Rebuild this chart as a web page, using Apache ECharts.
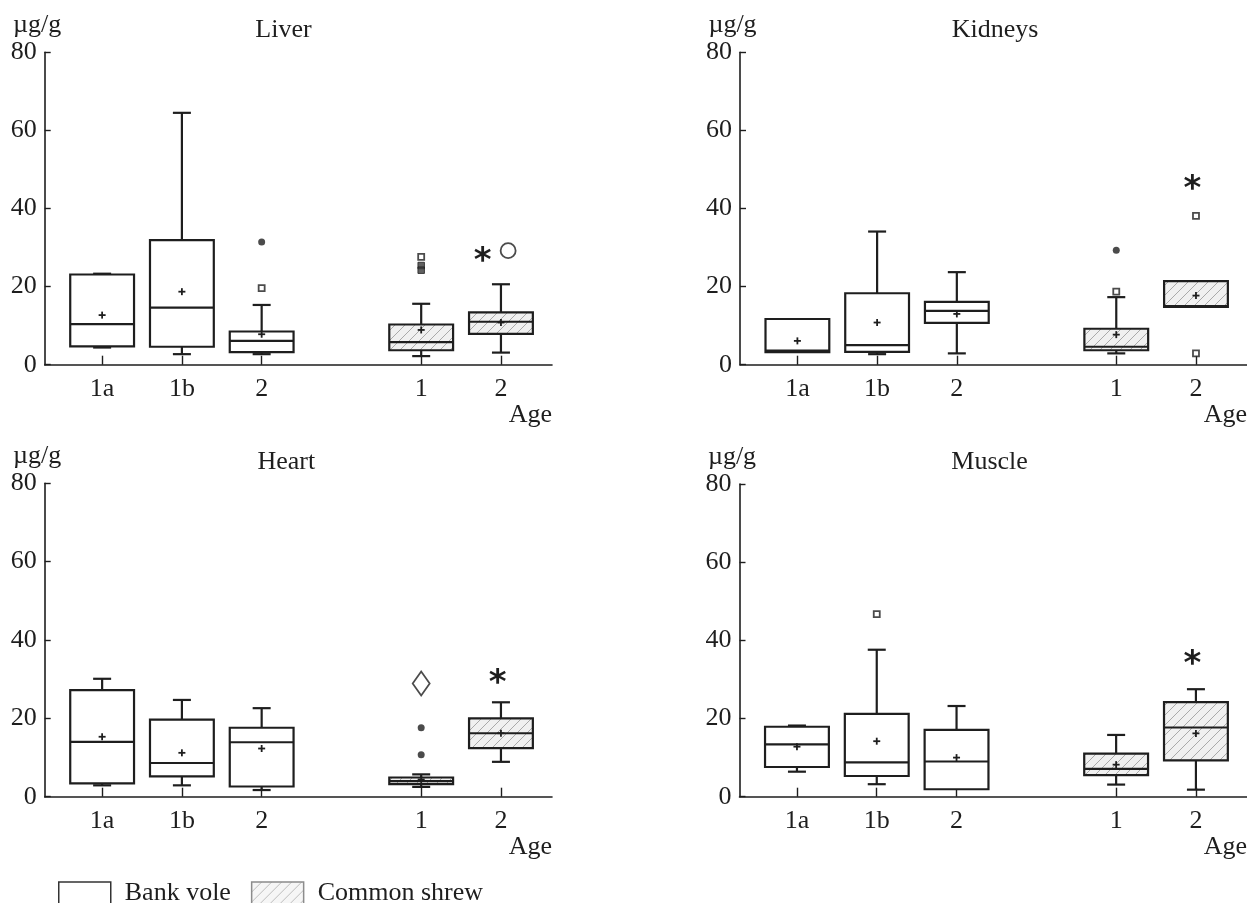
<!DOCTYPE html>
<html><head><meta charset="utf-8">
<script src="https://cdn.jsdelivr.net/npm/echarts@6/dist/echarts.min.js"></script>
<style>html,body{margin:0;padding:0;background:#fff}#c{width:1247px;height:903px}</style>
</head><body><div id="c"></div>
<script>
// ---- data ----
const panelTitles = ['Liver', 'Kidneys', 'Heart', 'Muscle'];
const tickPositions = [1, 2, 3, 5, 6];          // slot 4 = gap between species
const tickLabels = ['1a', '1b', '2', '1', '2'];
const volePos = [1, 2, 3];
const shrewPos = [5, 6];

// each row: [min, Q1, median, Q3, max, mean]
const liverVole   = [[4.4, 4.7, 10.4, 23.1, 23.3, 12.7], [2.7, 4.6, 14.6, 31.9, 64.5, 18.7], [2.7, 3.2, 6.1, 8.5, 15.3, 7.8]];
const liverShrew  = [[2.2, 3.7, 5.8, 10.3, 15.6, 8.9], [3.1, 7.9, 11.0, 13.4, 20.6, 10.8]];
const kidneysVole = [[3.2, 3.2, 3.6, 11.7, 11.7, 6.1], [2.7, 3.3, 5.0, 18.3, 34.1, 10.8], [2.9, 10.7, 13.8, 16.1, 23.7, 13.0]];
const kidneysShrew= [[2.9, 3.7, 4.6, 9.2, 17.3, 7.7], [14.8, 14.8, 15.0, 21.4, 21.4, 17.7]];
const heartVole   = [[2.9, 3.4, 14.0, 27.2, 30.1, 15.3], [2.9, 5.2, 8.6, 19.7, 24.7, 11.2], [1.7, 2.6, 13.9, 17.6, 22.6, 12.3]];
const heartShrew  = [[2.5, 3.2, 4.0, 4.9, 5.7, 4.4], [8.9, 12.4, 16.2, 20.0, 24.1, 16.2]];
const muscleVole  = [[6.4, 7.6, 13.4, 17.9, 18.2, 12.8], [3.2, 5.3, 8.8, 21.2, 37.6, 14.2], [1.9, 1.9, 9.0, 17.1, 23.2, 10.0]];
const muscleShrew = [[3.1, 5.5, 7.1, 11.0, 15.8, 8.2], [1.8, 9.3, 17.7, 24.2, 27.5, 16.2]];

// outliers / marks: [position, value]
const liverOpenSquares   = [[3, 19.6], [5, 27.6]];
const liverFilledSquares = [[5, 25.4], [5, 24.2]];
const liverDots          = [[3, 31.4]];
const liverStars         = [[5.77, 28.4]];
const liverRings         = [[6.09, 29.2]];
const kidneysOpenSquares = [[5, 18.7], [6, 38.1], [6, 2.9]];
const kidneysDots        = [[5, 29.3]];
const kidneysStars       = [[5.955, 46.7]];
const heartDots          = [[5, 17.6], [5, 10.7]];
const heartDiamonds      = [[5, 28.9]];
const heartStars         = [[5.96, 30.8]];
const muscleOpenSquares  = [[2, 46.7]];
const muscleStars        = [[5.955, 35.8]];

// ---- presentation ----
const INK = '#1e1e1e';
const FONT = 'Liberation Serif';
const grids = [
  {left: 44.7, top: 52.3, width: 507.3, height: 312.4},
  {left: 740, top: 52.3, width: 507, height: 312.4},
  {left: 44.7, top: 483.3, width: 507.3, height: 313.4},
  {left: 739.5, top: 484, width: 507.5, height: 312.7}
];
const titlePos = [[283.5, 17], [995, 17], [286.3, 449], [989.6, 449]];

function makeHatch(bg, line, step) {
  const c = document.createElement('canvas');
  c.width = step; c.height = step;
  const g = c.getContext('2d');
  g.fillStyle = bg; g.fillRect(0, 0, step, step);
  g.strokeStyle = line; g.lineWidth = 1;
  g.beginPath();
  g.moveTo(0, step); g.lineTo(step, 0);
  g.moveTo(-2, 2); g.lineTo(2, -2);
  g.moveTo(step - 2, step + 2); g.lineTo(step + 2, step - 2);
  g.stroke();
  return {image: c, repeat: 'repeat'};
}
const hatchBox = makeHatch('#f0f0f0', '#a9a9a9', 10);
const hatchLegend = makeHatch('#f6f6f6', '#bdbdbd', 10);

function boxRenderer(hatched) {
  return function (params, api) {
    const x = api.value(0);
    const mn = api.value(1), q1 = api.value(2), md = api.value(3), q3 = api.value(4), mx = api.value(5), mean = api.value(6);
    const px = api.coord([x, 0])[0];
    const Y = v => api.coord([x, v])[1];
    const unit = api.size([1, 0])[0];
    const hw = unit * 0.4, cap = 9;
    const st = {stroke: INK, lineWidth: 2.2};
    const ln = (x1, y1, x2, y2, s) => ({type: 'line', shape: {x1, y1, x2, y2}, style: s || st});
    const ch = [];
    if (mx > q3) { ch.push(ln(px, Y(q3), px, Y(mx))); ch.push(ln(px - cap, Y(mx), px + cap, Y(mx))); }
    if (mn < q1) { ch.push(ln(px, Y(q1), px, Y(mn))); ch.push(ln(px - cap, Y(mn), px + cap, Y(mn))); }
    ch.push({type: 'rect', shape: {x: px - hw, y: Y(q3), width: 2 * hw, height: Y(q1) - Y(q3)},
             style: {fill: hatched ? hatchBox : '#ffffff', stroke: INK, lineWidth: 2.2}});
    ch.push(ln(px - hw, Y(md), px + hw, Y(md)));
    const my = Y(mean), ms = {stroke: INK, lineWidth: 1.8};
    ch.push(ln(px - 3.5, my, px + 3.5, my, ms));
    ch.push(ln(px, my - 3.5, px, my + 3.5, ms));
    return {type: 'group', children: ch};
  };
}

function starRenderer(params, api) {
  const p = api.coord([api.value(0), api.value(1)]);
  return {type: 'text', x: p[0], y: p[1] + 8,
          style: {text: '*', fontSize: 34, fontWeight: 'bold', fontFamily: 'DejaVu Sans', fill: INK, align: 'center', verticalAlign: 'middle'}};
}

const panels = [
  {vole: liverVole, shrew: liverShrew, open: liverOpenSquares, filled: liverFilledSquares, dots: liverDots, stars: liverStars, rings: liverRings, diamonds: []},
  {vole: kidneysVole, shrew: kidneysShrew, open: kidneysOpenSquares, filled: [], dots: kidneysDots, stars: kidneysStars, rings: [], diamonds: []},
  {vole: heartVole, shrew: heartShrew, open: [], filled: [], dots: heartDots, stars: heartStars, rings: [], diamonds: heartDiamonds},
  {vole: muscleVole, shrew: muscleShrew, open: muscleOpenSquares, filled: [], dots: [], stars: muscleStars, rings: [], diamonds: []}
];

const txt = {fontFamily: FONT, fontSize: 26, color: INK};
const option = {
  animation: false,
  backgroundColor: '#ffffff',
  title: panelTitles.map((t, i) => ({text: t, left: titlePos[i][0], top: titlePos[i][1], textAlign: 'center', padding: 0,
                                     textStyle: {fontFamily: FONT, fontSize: 26, fontWeight: 'normal', color: INK}})),
  legend: {
    left: 58, top: 880, padding: 0, itemWidth: 52, itemHeight: 22, itemGap: 20, selectedMode: false, icon: 'rect',
    textStyle: Object.assign({padding: [0, 0, 0, 9]}, txt),
    data: [
      {name: 'Bank vole', itemStyle: {color: '#ffffff', borderColor: '#333333', borderWidth: 1.5}},
      {name: 'Common shrew', itemStyle: {color: hatchLegend, borderColor: '#8c8c8c', borderWidth: 1.5}}
    ]
  },
  grid: grids.map(g => Object.assign({containLabel: false, outerBoundsMode: 'none'}, g)),
  xAxis: grids.map((g, i) => ({
    type: 'value', gridIndex: i, min: 0.28, max: 6.64,
    splitLine: {show: false},
    axisLine: {show: true, onZero: false, lineStyle: {color: INK, width: 1.6}},
    axisTick: {show: true, inside: true, length: 9, customValues: tickPositions, lineStyle: {color: INK, width: 1.4}},
    axisLabel: Object.assign({customValues: tickPositions, margin: 11, formatter: v => tickLabels[tickPositions.indexOf(v)]}, txt),
    name: 'Age', nameLocation: 'end', nameGap: 0, nameMoveOverlap: false,
    nameTextStyle: Object.assign({align: 'right', verticalAlign: 'top', padding: [37, 0, 0, 0]}, txt)
  })),
  yAxis: grids.map((g, i) => ({
    type: 'value', gridIndex: i, min: 0, max: 80, interval: 20,
    splitLine: {show: false},
    axisLine: {show: true, onZero: false, lineStyle: {color: INK, width: 1.6}},
    axisTick: {show: true, inside: true, length: 6, lineStyle: {color: INK, width: 1.4}},
    axisLabel: Object.assign({margin: 8}, txt),
    name: 'µg/g', nameLocation: 'end', nameGap: 14, nameMoveOverlap: false,
    nameTextStyle: Object.assign({padding: [0, 15, 0, 0]}, txt)
  })),
  series: []
};

panels.forEach((p, i) => {
  option.series.push({
    name: 'Bank vole', type: 'custom', xAxisIndex: i, yAxisIndex: i, silent: true,
    itemStyle: {color: '#ffffff', borderColor: '#333333'},
    data: volePos.map((x, j) => [x].concat(p.vole[j])), renderItem: boxRenderer(false), z: 2
  });
  option.series.push({
    name: 'Common shrew', type: 'custom', xAxisIndex: i, yAxisIndex: i, silent: true,
    itemStyle: {color: '#eeeeee', borderColor: '#8c8c8c'},
    data: shrewPos.map((x, j) => [x].concat(p.shrew[j])), renderItem: boxRenderer(true), z: 2
  });
  const sc = (data, symbol, size, style) => ({type: 'scatter', xAxisIndex: i, yAxisIndex: i, silent: true, z: 4,
                                              data, symbol, symbolSize: size, itemStyle: style});
  option.series.push(sc(p.open, 'rect', 6, {color: '#ffffff', borderColor: INK, borderWidth: 1.8}));
  option.series.push(sc(p.filled, 'rect', 6.5, {color: '#3a3a3a', borderColor: INK, borderWidth: 1}));
  option.series.push(sc(p.dots, 'circle', 7, {color: INK}));
  option.series.push(sc(p.rings, 'circle', 15, {color: '#ffffff', borderColor: INK, borderWidth: 1.8}));
  option.series.push(sc(p.diamonds, 'diamond', [17, 24], {color: '#ffffff', borderColor: INK, borderWidth: 1.8}));
  option.series.push({type: 'custom', xAxisIndex: i, yAxisIndex: i, silent: true, z: 4, data: p.stars, renderItem: starRenderer});
});

const chart = echarts.init(document.getElementById('c'));
chart.setOption(option);
</script>
</body></html>
